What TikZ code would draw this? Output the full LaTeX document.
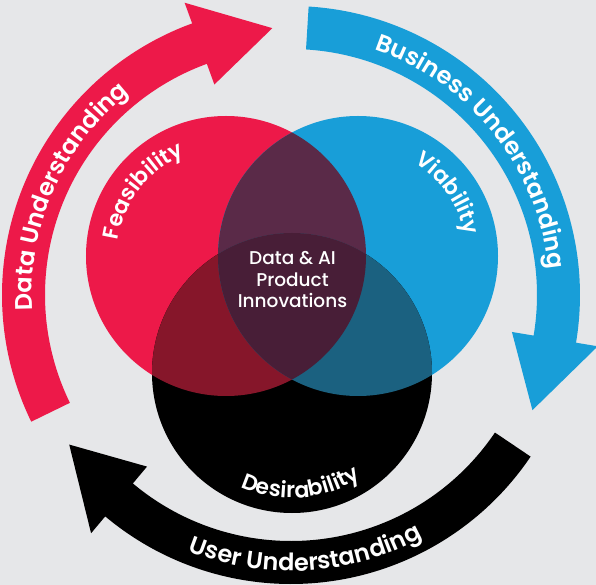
\documentclass[tikz,border=0pt]{standalone}
\usepackage{fontspec}
\setmainfont{Poppins}[BoldFont={Poppins SemiBold}]
\newfontfamily\mediumfont{Poppins Medium}
\usetikzlibrary{decorations.text}
\definecolor{bggrey}{HTML}{E6E7E9}
\definecolor{feasred}{HTML}{ED1949}
\definecolor{viablue}{HTML}{189ED8}
\definecolor{redblue}{HTML}{5A2A48}
\definecolor{redblack}{HTML}{86162A}
\definecolor{blueblack}{HTML}{1B6180}
\definecolor{coremix}{HTML}{481E37}
\newcommand{\ringfont}{\bfseries\fontsize{24}{24}\selectfont}
\newcommand{\circfont}{\bfseries\fontsize{22}{22}\selectfont}

\begin{document}
\begin{tikzpicture}[x=1pt, y=1pt,
    ringtext/.style={decorate, decoration={text along path, text={|\ringfont|#1}, text align=center, text color=white}},
    circtext/.style={decorate, decoration={text along path, text={|\circfont|#1}, text align=center, text color=white}}]
    \useasboundingbox[fill=bggrey] (-291, -290) rectangle (305, 295);
    \coordinate (hub) at (0, 0);
    \coordinate (feas) at (-65, 39);
    \coordinate (via) at (67, 39);
    \coordinate (desir) at (1, -78);
    \fill[feasred] (feas) circle[radius=140];
    \fill[viablue] (via) circle[radius=140];
    \fill[black] (desir) circle[radius=140];
    \begin{scope}
      \clip (feas) circle[radius=140];
      \fill[redblue] (via) circle[radius=140];
      \fill[redblack] (desir) circle[radius=140];
    \end{scope}
    \begin{scope}
      \clip (via) circle[radius=140];
      \fill[blueblack] (desir) circle[radius=140];
      \clip (feas) circle[radius=140];
      \fill[coremix] (desir) circle[radius=140];
    \end{scope}
    \foreach \s/\col in {206/feasred, 86.5/viablue, -34/black}
      \fill[\col] (\s:289) arc[start angle=\s, end angle={\s-96}, radius=289] -- ({\s-96}:311) -- ({\s-112}:267.5)
        -- ({\s-96}:224) -- ({\s-96}:246) arc[start angle={\s-96}, end angle=\s, radius=246] -- cycle;
    \path[ringtext=Data Understanding] (204:259) arc[start angle=204, end angle=108, radius=259];
    \path[ringtext=Business Understanding] (86.5:259) arc[start angle=86.5, end angle=-9.5, radius=259];
    \path[ringtext=User Understanding] (-134.7:276) arc[start angle=-134.7, end angle=-38.7, radius=276];
    \path[circtext=Feasibility] (feas) ++(172:109) arc[start angle=172, end angle=112, radius=109];
    \path[circtext=Viability] (via) ++(65:109) arc[start angle=65, end angle=5, radius=109];
    \path[circtext=Desirability] (desir) ++(-125.5:125) arc[start angle=-125.5, end angle=-45.5, radius=125];
    \node[align=center, text=white, font=\mediumfont\fontsize{18.5}{21.5}\selectfont] (core) at (1.5, 15) {Data \& AI\\Product\\Innovations};
  \end{tikzpicture}
\end{document}
